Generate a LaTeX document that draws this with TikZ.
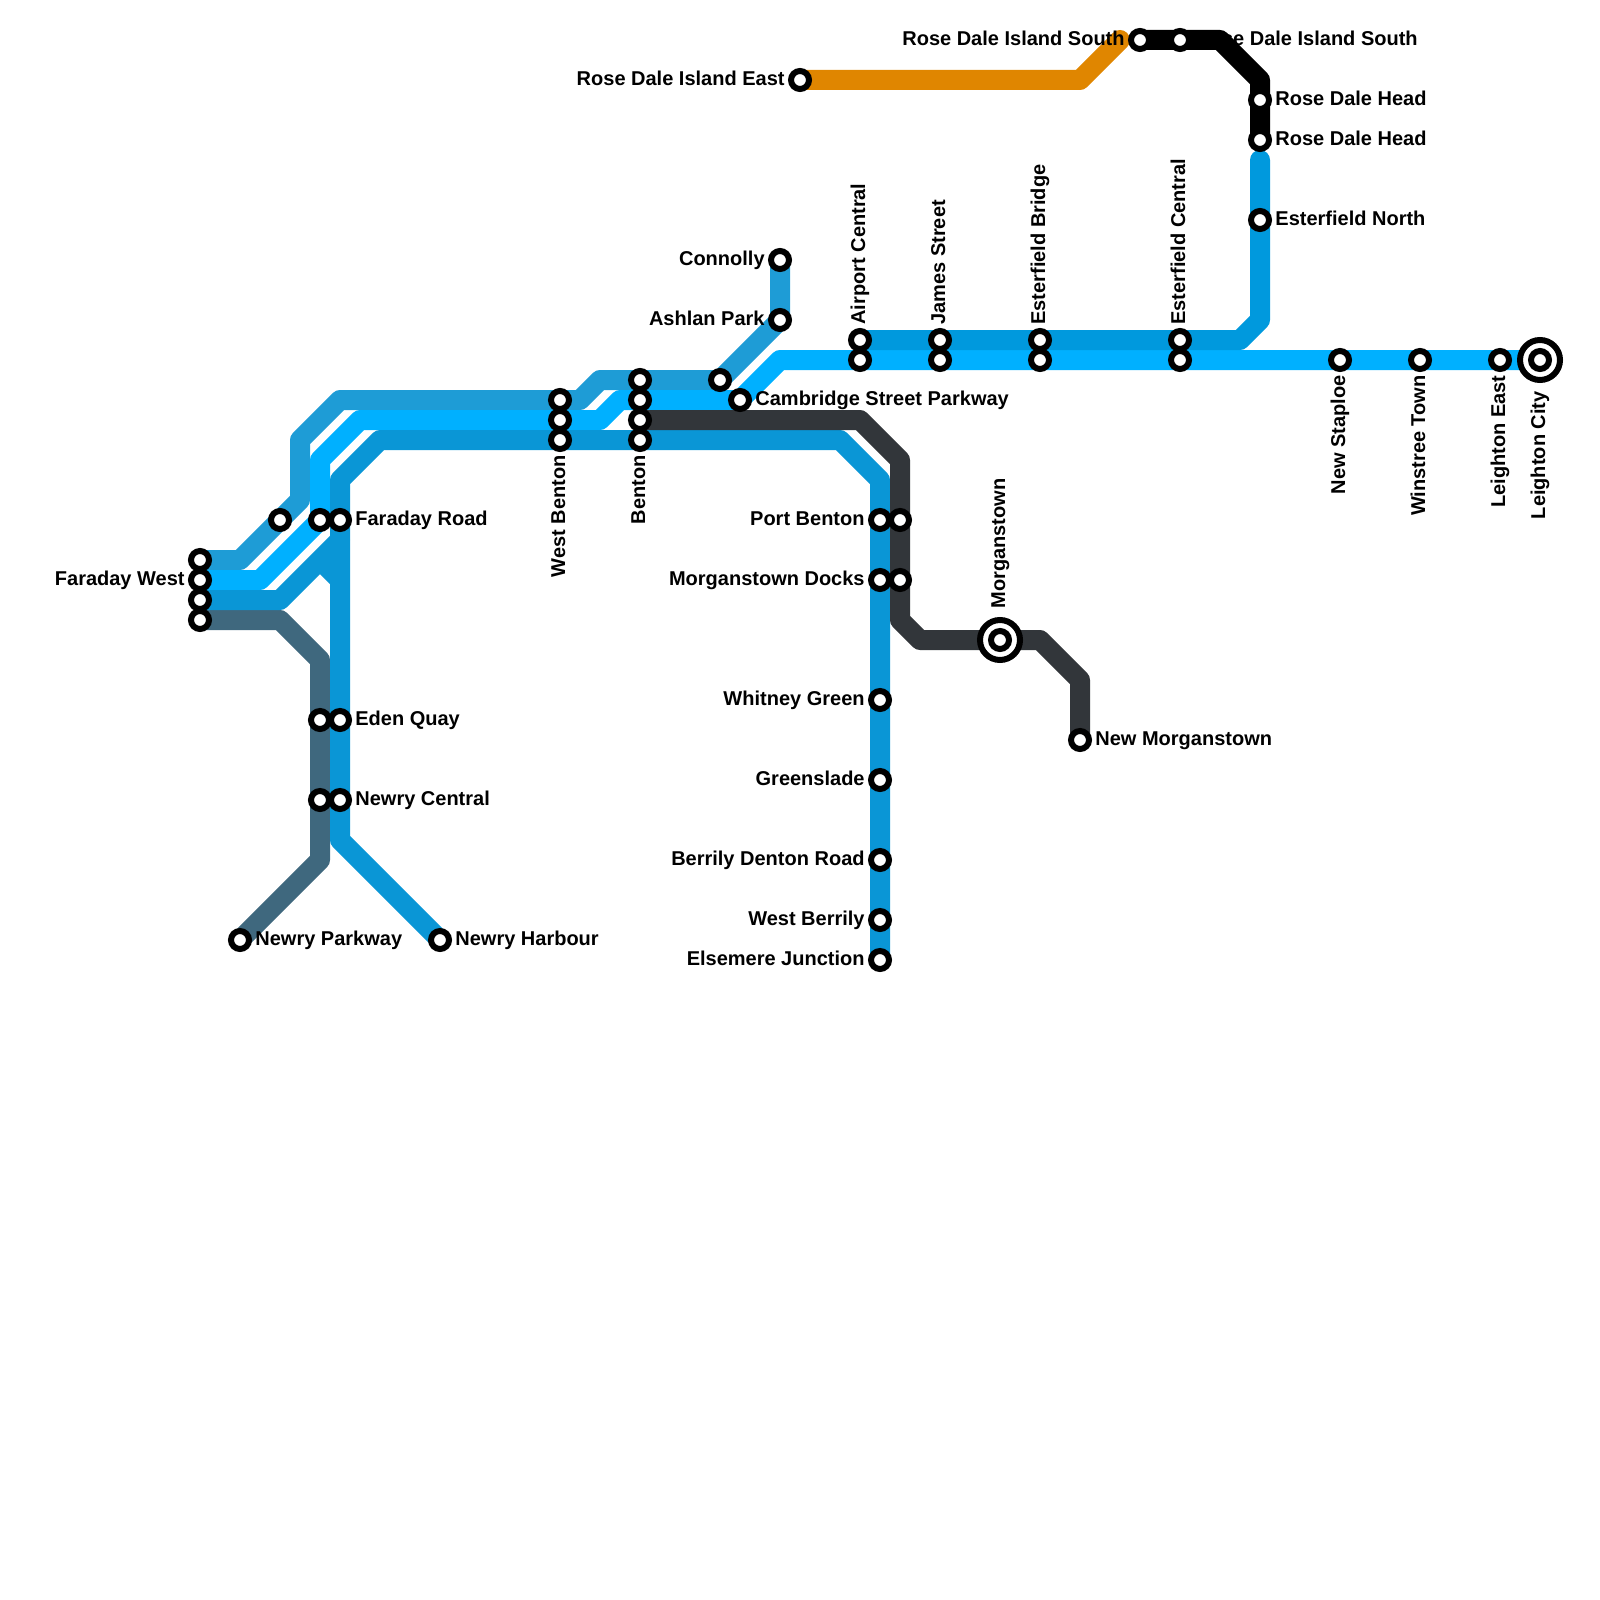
\documentclass[tikz,border=0pt]{standalone}
\usepackage{fontspec}
\setmainfont{Liberation Sans}
\usetikzlibrary{backgrounds}
\definecolor{linea}{HTML}{1E9CD6}
\definecolor{lineb}{HTML}{00B0FF}
\definecolor{linec}{HTML}{0A96D6}
\definecolor{lined}{HTML}{0099DD}
\definecolor{slate}{HTML}{3F687E}
\definecolor{dunkelgrau}{HTML}{32363A}
\definecolor{orangeline}{HTML}{E08600}
\tikzset{
  metro/.style={line width=10pt, line cap=round, line join=round},
  station/.style={circle, draw=black, fill=white, line width=3pt, minimum size=9pt, inner sep=0pt},
  ring/.style={circle, draw=black, fill=white, line width=3pt, minimum size=20pt, inner sep=0pt},
  lbl/.style={font=\bfseries\fontsize{10}{12}\selectfont, inner sep=0pt},
  lblE/.style={lbl, anchor=base west, xshift=7.5pt, yshift=-2.75pt},
  lblW/.style={lbl, anchor=base east, xshift=-7.5pt, yshift=-2.75pt},
  lblN/.style={lbl, anchor=base west, xshift=2.5pt, yshift=7.5pt, rotate=90},
  lblS/.style={lbl, anchor=base east, xshift=2.5pt, yshift=-7.5pt, rotate=90},
  lblNfar/.style={lbl, anchor=base west, xshift=2.5pt, yshift=15.5pt, rotate=90},
  lblSfar/.style={lbl, anchor=base east, xshift=2.5pt, yshift=-15.5pt, rotate=90}
}
\begin{document}
\begin{tikzpicture}[x=0.5pt, y=-0.5pt]
  \useasboundingbox (0,0) rectangle (1600,1600);

  % Endstationen
  \node[ring] (mtownring) at (1000,640) {};
  \node[ring] (lcityring) at (1540,360) {};

  % Stations
  \foreach \nm/\px/\py in {fwa/200/560, fwb/200/580, fwc/200/600, fwd/200/620,
      frx/280/520, fry/320/520, frz/340/520, eqa/320/720, eqb/340/720,
      nca/320/800, ncb/340/800, parkway/240/940, harbour/440/940,
      wba/560/400, wbb/560/420, wbc/560/440,
      bna/640/380, bnb/640/400, bnc/640/420, bnd/640/440,
      connolly/780/260, ashlan/780/320, csa/720/380, csb/740/400,
      aca/860/340, acb/860/360, jsa/940/340, jsb/940/360,
      eba/1040/340, ebb/1040/360, eca/1180/340, ecb/1180/360,
      staploe/1340/360, winstree/1420/360, least/1500/360, lcity/1540/360,
      pba/880/520, pbb/900/520, mda/880/580, mdb/900/580,
      whitney/880/700, greenslade/880/780, berrily/880/860,
      westb/880/920, elsemere/880/960, mtown/1000/640, newm/1080/740,
      rdeast/800/80, rdsa/1140/40, rdsb/1180/40,
      rdha/1260/100, rdhb/1260/140, esn/1260/220} {
    \node[station] (\nm) at (\px,\py) {};
  }

  % Bends
  \foreach \nm/\px/\py in {a1/240/560, a2/300/500, a3/300/440, a4/340/400, a5/580/400,
      a6/600/380, b1/260/580, b2/360/420, b3/320/460, b4/600/420, b5/620/400, b6/780/360,
      c1/280/600, c2/340/540, c3/320/560, c4/340/580, c5/340/840, c6/340/480,
      c7/380/440, c8/840/440, c9/880/480, d1/1240/340, d2/1260/320, d3/1260/160,
      s1/280/620, s2/320/660, s3/320/860, g1/860/420, g2/900/460, g3/900/620,
      g4/920/640, g5/1040/640, g6/1080/680, o1/1080/80, o2/1120/40,
      k1/1220/40, k2/1260/80} {
    \coordinate (\nm) at (\px,\py);
  }

  % Linien
  \begin{scope}[on background layer]
    \draw[metro, slate] (fwd.center) -- (s1) -- (s2) -- (s3) -- (parkway.center);
    \draw[metro, linea] (fwa.center) -- (a1) -- (a2) -- (a3) -- (a4) -- (a5) -- (a6) -- (csa.center) -- (ashlan.center) -- (connolly.center);
    \draw[metro, lineb] (fwb.center) -- (b1) -- (fry.center) -- (b3) -- (b2) -- (b4) -- (b5) -- (csb.center) -- (b6) -- (lcity.center);
    \draw[metro, linec] (fwc.center) -- (c1) -- (c2);
    \draw[line width=10pt, linec] (c3) -- (c4);
    \draw[metro, linec] (harbour.center) -- (c5) -- (c6) -- (c7) -- (c8) -- (c9) -- (elsemere.center);
    \draw[metro, lined] (aca.center) -- (d1) -- (d2) -- (d3);
    \draw[metro, dunkelgrau] (bnc.center) -- (g1) -- (g2) -- (g3) -- (g4) -- (g5) -- (g6) -- (newm.center);
    \draw[metro, orangeline] (rdeast.center) -- (o1) -- (o2);
    \node[lblW] (lrdsa) at (rdsa) {Rose Dale Island South};
    \node[lblE] (lrdsb) at (rdsb) {Rose Dale Island South};
    \draw[metro, black] (rdsa.center) -- (k1) -- (k2) -- (rdhb.center);
  \end{scope}

  % Beschriftung
  \node[lblW] (lfw) at (fwb) {Faraday West};
  \node[lblE] (lfr) at (frz) {Faraday Road};
  \node[lblE] (leq) at (eqb) {Eden Quay};
  \node[lblE] (lnc) at (ncb) {Newry Central};
  \node[lblE] (lpw) at (parkway) {Newry Parkway};
  \node[lblE] (lnh) at (harbour) {Newry Harbour};
  \node[lblS] (lwb) at (wbc) {West Benton};
  \node[lblS] (lbn) at (bnd) {Benton};
  \node[lblW] (lco) at (connolly) {Connolly};
  \node[lblW] (las) at (ashlan) {Ashlan Park};
  \node[lblE] (lcs) at (csb) {Cambridge Street Parkway};
  \node[lblN] (lac) at (aca) {Airport Central};
  \node[lblN] (ljs) at (jsa) {James Street};
  \node[lblN] (leb) at (eba) {Esterfield Bridge};
  \node[lblN] (lec) at (eca) {Esterfield Central};
  \node[lblS] (lns) at (staploe) {New Staploe};
  \node[lblS] (lwt) at (winstree) {Winstree Town};
  \node[lblS] (lle) at (least) {Leighton East};
  \node[lblSfar] (llc) at (lcity) {Leighton City};
  \node[lblW] (lpb) at (pba) {Port Benton};
  \node[lblW] (lmd) at (mda) {Morganstown Docks};
  \node[lblW] (lwg) at (whitney) {Whitney Green};
  \node[lblW] (lgs) at (greenslade) {Greenslade};
  \node[lblW] (lbd) at (berrily) {Berrily Denton Road};
  \node[lblW] (lwe) at (westb) {West Berrily};
  \node[lblW] (lej) at (elsemere) {Elsemere Junction};
  \node[lblNfar] (lmt) at (mtown) {Morganstown};
  \node[lblE] (lnm) at (newm) {New Morganstown};
  \node[lblW] (lre) at (rdeast) {Rose Dale Island East};
  \node[lblE] (lrh) at (rdha) {Rose Dale Head};
  \node[lblE] (lrk) at (rdhb) {Rose Dale Head};
  \node[lblE] (les) at (esn) {Esterfield North};
\end{tikzpicture}
\end{document}
